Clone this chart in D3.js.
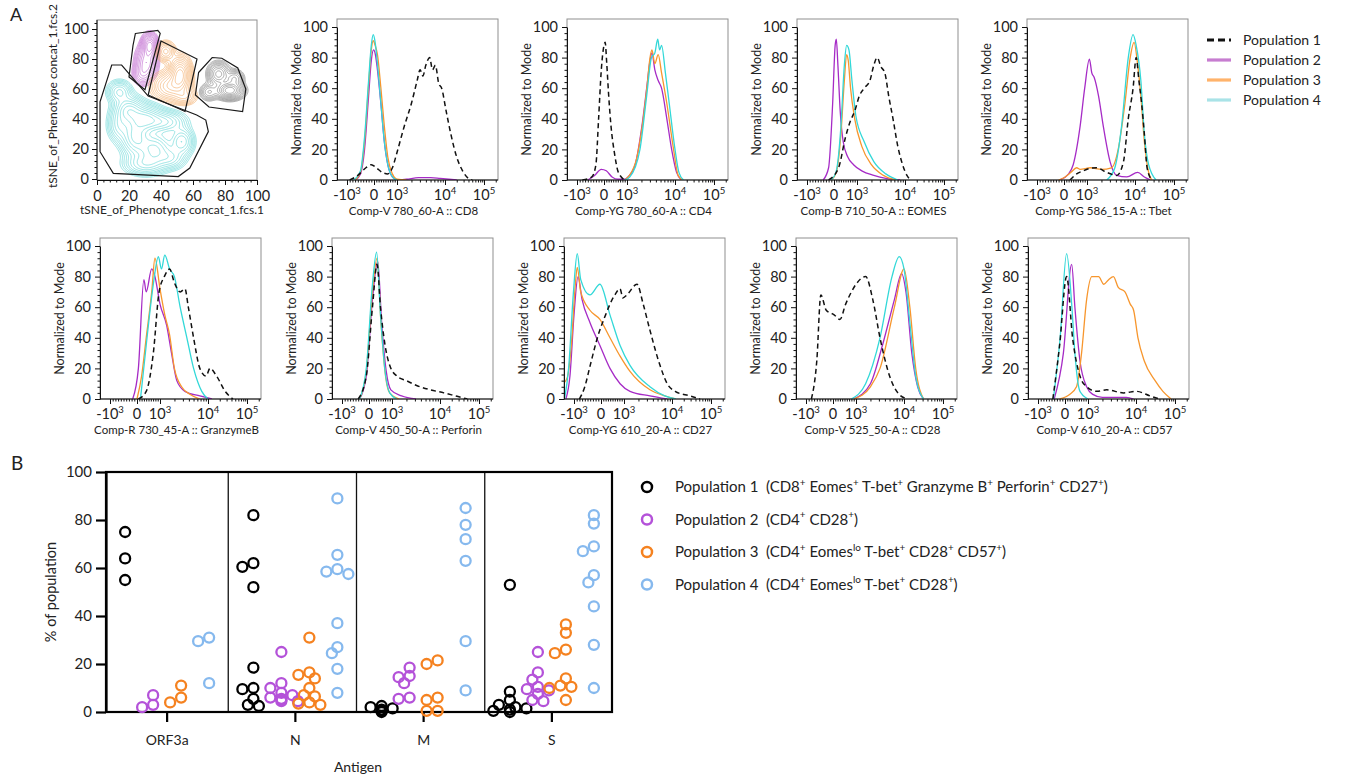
<!DOCTYPE html>
<html>
<head>
<meta charset="utf-8">
<script src="https://cdn.jsdelivr.net/npm/d3@7"></script>
<style>
  body { margin: 0; background: #fff; }
  text { font-family: Lato, "Open Sans", sans-serif; fill: #222; }
</style>
</head>
<body>
<div id="fig"></div>
<script>
// ---------- data: panel A ----------
const popNames = ["Population 1", "Population 2", "Population 3", "Population 4"];
const histColors = ["#111111", "#a62bc6", "#f7962d", "#32d8d8"];
const legendColorsA = ["#111111", "#c77dd0", "#ffb36b", "#a9e3e7"];

// biexponential axis: positions in decade units, -1 = -10^3, 0 = 0, 1 = 10^3 ...
const histTicks = [-1, 0, 1, 2, 3];
const histTickLabels = ["-10^{3}", "0", "10^{3}", "10^{4}", "10^{5}"];

// each marker: [pop1, pop2, pop3, pop4], points are [decade position, % of mode]
const cd8 = [
  [[-0.9,0],[-0.6,3],[-0.3,8],[-0.1,10],[0.1,8],[0.35,5],[0.6,4],[0.8,8],[1.0,18],[1.15,35],[1.3,50],[1.42,65],[1.48,72],[1.54,68],[1.6,75],[1.68,80],[1.74,72],[1.8,75],[1.87,63],[1.93,60],[2.03,45],[2.15,30],[2.3,15],[2.45,6],[2.6,1],[2.7,0]],
  [[-0.7,0],[-0.5,4],[-0.35,20],[-0.2,55],[-0.1,78],[-0.02,85],[0.06,82],[0.15,72],[0.3,50],[0.45,25],[0.6,10],[0.8,2],[1.0,0],[1.2,0.5],[1.45,1.5],[1.7,1.5],[1.9,1],[2.1,0.5],[2.3,0]],
  [[-0.7,0],[-0.5,5],[-0.35,25],[-0.2,62],[-0.1,85],[-0.03,91],[0.05,88],[0.15,82],[0.3,60],[0.45,35],[0.6,15],[0.8,4],[1.0,0.5],[1.2,0]],
  [[-0.75,0],[-0.5,6],[-0.35,28],[-0.2,65],[-0.1,88],[-0.03,95],[0.05,90],[0.15,76],[0.3,50],[0.45,25],[0.6,10],[0.8,2],[1.0,0]]
];
const cd4 = [
  [[-0.8,0],[-0.45,2],[-0.3,10],[-0.2,40],[-0.1,72],[0,88],[0.05,90],[0.12,76],[0.2,56],[0.3,36],[0.45,18],[0.6,6],[0.75,2],[0.9,0]],
  [[-0.6,0],[-0.35,3],[-0.1,7],[0.1,6],[0.35,2],[0.6,0.5],[0.9,0.5],[1.02,2],[1.17,10],[1.31,35],[1.41,60],[1.48,78],[1.52,83],[1.58,72],[1.65,65],[1.72,60],[1.83,40],[1.93,20],[2.04,5],[2.17,0]],
  [[0.9,0],[1.05,3],[1.2,14],[1.33,38],[1.42,62],[1.48,80],[1.52,85],[1.58,76],[1.65,82],[1.72,70],[1.83,50],[1.97,20],[2.08,3],[2.2,0]],
  [[0.9,0],[1.06,2],[1.27,20],[1.41,55],[1.51,80],[1.58,83],[1.64,92],[1.68,85],[1.72,88],[1.8,70],[1.88,50],[2.0,20],[2.1,5],[2.22,0]]
];
const eomes = [
  [[-0.2,0],[0.2,8],[0.5,28],[0.7,38],[0.9,45],[1.05,55],[1.15,60],[1.27,65],[1.35,75],[1.42,80],[1.5,74],[1.58,70],[1.66,55],[1.75,40],[1.85,22],[1.95,10],[2.05,3],[2.15,0]],
  [[-0.4,0],[-0.2,8],[-0.05,50],[0.05,88],[0.1,92],[0.17,75],[0.27,45],[0.4,25],[0.6,15],[0.85,10],[1.1,6],[1.35,3],[1.6,1],[1.9,0]],
  [[-0.1,0],[0.1,5],[0.3,30],[0.45,65],[0.55,82],[0.62,78],[0.72,60],[0.9,40],[1.1,22],[1.3,10],[1.55,3],[1.8,0]],
  [[-0.1,0],[0.1,6],[0.3,35],[0.45,75],[0.55,88],[0.65,85],[0.78,65],[0.95,42],[1.15,25],[1.35,12],[1.6,4],[1.85,0]]
];
const tbet = [
  [[0.26,0],[0.55,4],[0.84,6],[1.0,7],[1.2,8],[1.41,5],[1.62,3],[1.76,12],[1.86,40],[1.96,60],[2.03,80],[2.1,65],[2.17,50],[2.24,30],[2.31,8],[2.43,0]],
  [[-0.17,0],[0.2,4],[0.4,10],[0.7,35],[0.9,60],[1.05,79],[1.1,70],[1.15,67],[1.24,55],[1.34,35],[1.48,12],[1.62,3],[1.83,2],[2.07,5],[2.24,2],[2.4,0]],
  [[-0.2,0],[0.05,2],[0.3,5],[0.55,8],[0.7,7],[1.07,8],[1.3,7],[1.51,8],[1.65,20],[1.79,50],[1.9,80],[1.98,90],[2.07,75],[2.15,55],[2.24,25],[2.35,5],[2.43,0]],
  [[1.41,0],[1.58,8],[1.72,35],[1.86,80],[1.96,95],[2.03,88],[2.15,65],[2.24,30],[2.35,10],[2.54,0]]
];
const granzymeB = [
  [[0.06,0],[0.4,5],[0.71,30],[0.96,70],[1.09,80],[1.2,85],[1.3,76],[1.42,70],[1.52,72],[1.59,60],[1.7,40],[1.83,20],[1.96,15],[2.05,20],[2.22,15],[2.44,5],[2.64,0]],
  [[-0.16,0],[0.06,20],[0.3,78],[0.4,70],[0.64,85],[0.78,80],[1.0,62],[1.14,48],[1.24,30],[1.35,12],[1.52,5],[1.83,2],[2.1,0]],
  [[0.0,0],[0.2,15],[0.4,40],[0.64,70],[0.78,92],[1.0,72],[1.1,55],[1.2,42],[1.3,20],[1.45,8],[1.63,3],[1.83,0]],
  [[0.15,0],[0.4,35],[0.71,75],[0.93,93],[1.03,85],[1.1,94],[1.2,85],[1.3,80],[1.42,60],[1.56,40],[1.7,20],[1.87,5],[2.0,0]]
];
const perforin = [
  [[-0.4,0],[-0.1,15],[0.15,60],[0.35,88],[0.5,60],[0.7,35],[0.9,22],[1.1,15],[1.3,12],[1.5,9],[1.8,6],[2.1,4],[2.4,2],[2.7,0]],
  [[-0.35,0],[-0.1,15],[0.15,65],[0.38,90],[0.55,50],[0.75,18],[0.95,6],[1.2,2],[1.5,0]],
  [[-0.35,0],[-0.1,18],[0.15,70],[0.35,92],[0.52,50],[0.72,15],[0.9,4],[1.15,0]],
  [[-0.35,0],[-0.1,20],[0.15,75],[0.33,96],[0.5,55],[0.7,18],[0.9,4],[1.1,0]]
];
const cd27 = [
  [[-0.8,0],[-0.6,8],[-0.4,22],[-0.1,42],[0.2,55],[0.39,62],[0.6,68],[0.83,72],[0.95,66],[1.06,68],[1.27,75],[1.4,62],[1.54,45],[1.75,22],[1.9,10],[2.08,5],[2.46,2],[2.72,0]],
  [[-1.3,0],[-1.15,15],[-1.0,55],[-0.85,80],[-0.7,65],[-0.41,50],[-0.04,35],[0.39,20],[0.83,10],[1.125,5],[1.54,2],[1.9,0]],
  [[-1.4,10],[-1.25,14],[-1.1,35],[-0.95,75],[-0.88,86],[-0.75,70],[-0.41,58],[-0.04,52],[0.39,40],[0.83,28],[1.125,18],[1.54,6],[1.85,2],[2.1,0]],
  [[-1.35,0],[-1.2,20],[-1.02,70],[-0.88,95],[-0.75,78],[-0.41,68],[-0.04,75],[0.39,55],[0.83,35],[1.125,22],[1.54,8],[1.85,2],[2.1,0]]
];
const cd28 = [
  [[-0.8,0],[-0.6,25],[-0.45,68],[-0.25,58],[0.05,55],[0.3,52],[0.55,62],[0.8,70],[1.0,75],[1.2,80],[1.35,65],[1.5,40],[1.7,15],[1.9,3],[2.1,0]],
  [[0.9,0],[1.3,10],[1.55,35],[1.8,65],[1.95,82],[2.05,70],[2.2,30],[2.35,8],[2.5,0]],
  [[0.9,0],[1.3,8],[1.5,20],[1.8,60],[2.0,85],[2.15,60],[2.3,20],[2.5,0]],
  [[0.8,0],[1.2,10],[1.5,40],[1.75,80],[1.9,93],[2.0,85],[2.15,50],[2.3,15],[2.5,0]]
];
const cd57 = [
  [[-0.45,0],[-0.2,35],[0.07,80],[0.33,40],[0.65,15],[0.94,8],[1.18,5],[1.39,6],[1.74,4],[2.01,5],[2.36,2],[2.6,0]],
  [[-0.4,0],[-0.06,30],[0.29,88],[0.43,60],[0.65,25],[0.94,8],[1.1,3],[1.3,1],[1.8,1],[1.95,0]],
  [[-0.2,0],[0.2,3],[0.5,8],[0.72,30],[0.94,65],[1.08,80],[1.22,80],[1.33,75],[1.43,78],[1.53,80],[1.63,73],[1.77,70],[1.88,62],[1.95,58],[2.05,40],[2.21,25],[2.49,12],[2.69,5],[2.9,0]],
  [[-0.43,0],[-0.18,40],[0.07,95],[0.3,60],[0.43,30],[0.65,5],[1.0,0]]
];

const histRow1 = [cd8, cd4, eomes, tbet];
const histRow1Labels = ["Comp-V 780_60-A :: CD8", "Comp-YG 780_60-A :: CD4", "Comp-B 710_50-A :: EOMES", "Comp-YG 586_15-A :: Tbet"];
const histRow2 = [granzymeB, perforin, cd27, cd28, cd57];
const histRow2Labels = ["Comp-R 730_45-A :: GranzymeB", "Comp-V 450_50-A :: Perforin", "Comp-YG 610_20-A :: CD27", "Comp-V 525_50-A :: CD28", "Comp-V 610_20-A :: CD57"];

// tSNE gates (tSNE units) and density components [cx, cy, sx, sy, weight]
const gatePop1 = [[63.5,71],[72,81],[78,80.5],[88,74],[93,60],[91,45],[70,48],[61.5,56]];
const gatePop2 = [[24,97],[38,99],[39.5,97],[30,59.5],[20,68],[22.5,89]];
const gatePop3 = [[40,92],[62.5,80],[55,45],[32,56]];
const gatePop4 = [[9.2,76],[15.4,76],[32,55.3],[62.3,42.7],[68,39.3],[69.6,31.6],[58,7.3],[50.8,1.6],[10.2,3.8],[1.9,18.2],[1.9,51.5]];
const blobsPop1 = [[83,59,4.5,3,1],[76,70,3.5,4,0.6],[70,58,3,3,0.3],[86,67,3,3,0.4]];
const blobsPop2 = [[33,89,2.5,4,1],[31,78,3.5,6,0.7],[28,70,3,4,0.3]];
const blobsPop3 = [[52,70,3.5,6,1],[43,85,3,3.5,0.5],[46,62,6,5,0.6],[55,55,4,3,0.3]];
const blobsPop4 = [[14,58,4,4,0.5],[20,46,5,5,0.8],[30,40,6,5,0.9],[42,38,7,4,0.6],[24,28,5,7,0.8],[36,20,6,6,0.8],[30,10,7,4,0.5],[53,25,4,5,0.6],[46,14,5,4,0.4],[14,36,4,6,0.4]];
const contourColors = ["#8a8a8a", "#c06ad0", "#f4b173", "#6fd8d8"];

// ---------- data: panel B ----------
const antigens = ["ORF3a", "N", "M", "S"];
const pctPop1 = [[75,64,55], [82,62,60.5,52,18.5,10,9.5,5.5,3,2.5], [2.5,2,1.5,1,0.5,0], [53,8.5,5,3,2,1.5,1,0.5,0]];
const pctPop2 = [[7,2,3], [25,12,10,8,7,6,5.5,5,4.5,4.5], [18.5,15,14.5,12,6,5.5], [25,16.5,13.5,10.5,9.5,9,7.5,5,4.5]];
const pctPop3 = [[11,6,4], [31,16.5,15.5,14,10,7,6.5,4,3.5,3], [21.5,20,6,5,0.5,0.5], [36.5,33,26,24.5,14,11,10.5,10,5]];
const pctPop4 = [[31,29.5,12], [89,65.5,59.5,58.5,57.5,37,27,24.5,18,8], [85,78,72,63,29.5,9], [82,78.5,69,67,57,54,44,28,10]];
const colorsB = ["#000000", "#b452d9", "#f58220", "#86b9ee"];
const descB = [
  "(CD8^{+} Eomes^{+} T-bet^{+} Granzyme B^{+} Perforin^{+} CD27^{+})",
  "(CD4^{+} CD28^{+})",
  "(CD4^{+} Eomes^{lo} T-bet^{+} CD28^{+} CD57^{+})",
  "(CD4^{+} Eomes^{lo} T-bet^{+} CD28^{+})"
];

// ---------- drawing ----------
const svg = d3.select("#fig").append("svg").attr("width", 1347).attr("height", 778);

// text with ^{...} superscripts
function rich(sel, str, fs) {
  const parts = str.split(/(\^\{[^}]*\})/).filter(s => s.length);
  let shift = 0;
  parts.forEach(p => {
    const sup = p.startsWith("^{");
    const t = sel.append("tspan").text(sup ? p.slice(2, -1) : p);
    const target = sup ? -fs * 0.42 : 0;
    if (target !== shift) { t.attr("dy", target - shift); shift = target; }
    if (sup) t.attr("font-size", fs * 0.66);
  });
}

let clipId = 0;
function drawHist(px, py, label, curves) {
  const size = 161;
  const g = svg.append("g").attr("transform", `translate(${px},${py})`);
  const x = d3.scaleLinear().domain(histTicks).range([10, 37, 60, 108, 147]);
  const y = d3.scaleLinear().domain([0, 100]).range([size, 8]);

  g.append("rect").attr("width", size).attr("height", size)
    .attr("fill", "none").attr("stroke", "#8f8f8f").attr("stroke-width", 1);

  const id = "clip" + (clipId++);
  g.append("clipPath").attr("id", id).append("rect").attr("width", size).attr("height", size);

  const line = d3.line().x(d => x(d[0])).y(d => y(d[1])).curve(d3.curveMonotoneX);
  const cg = g.append("g").attr("clip-path", `url(#${id})`);
  [1, 2, 3, 0].forEach(i => {
    cg.append("path").datum(curves[i])
      .attr("d", line)
      .attr("fill", "none")
      .attr("stroke", histColors[i])
      .attr("stroke-width", i === 0 ? 1.5 : 1.3)
      .attr("stroke-dasharray", i === 0 ? "5,3.5" : null);
  });

  // y axis
  const ya = g.append("g").call(d3.axisLeft(y).tickValues(d3.range(0, 101, 20)).tickSize(5).tickSizeOuter(0));
  ya.append("g").call(d3.axisLeft(y).tickValues(d3.range(0, 101, 4).filter(v => v % 20)).tickSize(2.5).tickFormat(""))
    .select(".domain").remove();
  ya.selectAll(".tick text").attr("font-size", 14.5).attr("font-family", "Lato").attr("fill", "#222").attr("dx", -1);
  ya.selectAll("line, path").attr("stroke", "#111");

  // x axis
  const minors = d3.range(-1, 1, 0.1).concat(
    d3.merge([1, 2].map(k => d3.range(2, 10).map(m => k + Math.log10(m)))), [3 + Math.log10(2)]);
  const xa = g.append("g").attr("transform", `translate(0,${size})`)
    .call(d3.axisBottom(x).tickValues(histTicks).tickSize(5).tickSizeOuter(0).tickFormat(""));
  xa.append("g").call(d3.axisBottom(x).tickValues(minors).tickSize(2.5).tickFormat(""))
    .select(".domain").remove();
  xa.select(".domain").attr("d", `M0,0H${size}`);
  xa.selectAll("line, path").attr("stroke", "#111");
  xa.selectAll(".tick text").remove();
  histTicks.forEach((t, i) => {
    const tx = xa.append("text").attr("x", x(t)).attr("y", 20)
      .attr("text-anchor", "middle").attr("font-size", 14.5);
    rich(tx, histTickLabels[i], 14.5);
  });

  g.append("text").attr("x", size / 2 - 4).attr("y", size + 35)
    .attr("text-anchor", "middle").attr("font-size", 11.5).text(label);
  g.append("text").attr("transform", `translate(-36,${size / 2}) rotate(-90)`)
    .attr("text-anchor", "middle").attr("font-size", 12.5).text("Normalized to Mode");
}

function drawTsne(px, py) {
  const size = 160;
  const g = svg.append("g").attr("transform", `translate(${px},${py})`);
  const x = d3.scaleLinear().domain([0, 100]).range([0, size]);
  const y = d3.scaleLinear().domain([0, 100]).range([size - 1, 9]);

  g.append("rect").attr("width", size).attr("height", size)
    .attr("fill", "none").attr("stroke", "#8f8f8f");

  // density contours
  const n = 200, step = 0.5;
  const proj = d3.geoPath(d3.geoTransform({
    point: function (gx, gy) { this.stream.point(x(gx * step), y(gy * step)); }
  }));
  [blobsPop4, blobsPop2, blobsPop3, blobsPop1].forEach((blobs, k) => {
    const ci = [3, 1, 2, 0][k];
    const vals = new Float64Array(n * n);
    for (let j = 0; j < n; j++) for (let i = 0; i < n; i++) {
      const tx = (i + 0.5) * step, ty = (j + 0.5) * step;
      let s = 0;
      blobs.forEach(b => {
        s += b[4] * Math.exp(-((tx - b[0]) ** 2 / (2 * b[2] ** 2) + (ty - b[1]) ** 2 / (2 * b[3] ** 2)));
      });
      vals[j * n + i] = s;
    }
    const m = d3.max(vals);
    const levels = [0.04, 0.06, 0.085, 0.12, 0.16, 0.22, 0.3, 0.4, 0.52, 0.66, 0.82].map(f => f * m);
    g.append("g").selectAll("path")
      .data(d3.contours().size([n, n]).thresholds(levels)(vals))
      .join("path")
      .attr("d", proj)
      .attr("fill", "none")
      .attr("stroke", contourColors[ci])
      .attr("stroke-width", 0.7);
  });

  // gates
  const gl = d3.line().x(d => x(d[0])).y(d => y(d[1])).curve(d3.curveLinearClosed);
  [gatePop1, gatePop2, gatePop3, gatePop4].forEach(gt => {
    g.append("path").attr("d", gl(gt)).attr("fill", "none").attr("stroke", "#1a1a1a").attr("stroke-width", 1.2);
  });

  const ya = g.append("g").call(d3.axisLeft(y).tickValues(d3.range(0, 101, 20)).tickSize(5).tickSizeOuter(0));
  ya.append("g").call(d3.axisLeft(y).tickValues(d3.range(0, 105, 4).filter(v => v % 20)).tickSize(2.5).tickFormat(""))
    .select(".domain").remove();
  ya.select(".domain").attr("d", `M0,${size}V0`);
  const xa = g.append("g").attr("transform", `translate(0,${size})`)
    .call(d3.axisBottom(x).tickValues(d3.range(0, 101, 20)).tickSize(5).tickSizeOuter(0));
  xa.append("g").call(d3.axisBottom(x).tickValues(d3.range(0, 101, 4).filter(v => v % 20)).tickSize(2.5).tickFormat(""))
    .select(".domain").remove();
  [ya, xa].forEach(a => {
    a.selectAll("line, path").attr("stroke", "#111");
    a.selectAll(".tick text").attr("font-size", 14.5).attr("font-family", "Lato").attr("fill", "#222");
  });
  xa.selectAll(".tick text").attr("dy", "0.9em");

  g.append("text").attr("x", size / 2 - 5).attr("y", size + 34)
    .attr("text-anchor", "middle").attr("font-size", 12).text("tSNE_of_Phenotype concat_1.fcs.1");
  g.append("text").attr("transform", `translate(-40,${size / 2 - 4}) rotate(-90)`)
    .attr("text-anchor", "middle").attr("font-size", 12).text("tSNE_of_Phenotype concat_1.fcs.2");
}

// panel A
svg.append("text").attr("x", 10).attr("y", 21).attr("font-size", 18).text("A");
drawTsne(97, 20);
histRow1.forEach((c, i) => drawHist(337 + 230 * i, 19, histRow1Labels[i], c));
histRow2.forEach((c, i) => drawHist(100 + 232 * i, 238, histRow2Labels[i], c));

// legend A
const legA = svg.append("g").attr("transform", "translate(1207,40)");
popNames.forEach((p, i) => {
  legA.append("line").attr("x1", 0).attr("x2", 24).attr("y1", i * 20).attr("y2", i * 20)
    .attr("stroke", legendColorsA[i]).attr("stroke-width", 3.2)
    .attr("stroke-dasharray", i === 0 ? "7,4" : null);
  legA.append("text").attr("x", 36).attr("y", i * 20 + 5).attr("font-size", 14).text(p);
});

// panel B
svg.append("text").attr("x", 11).attr("y", 470).attr("font-size", 19).text("B");
const bx0 = 106, bx1 = 612, by0 = 472, by1 = 712;
const yB = d3.scaleLinear().domain([0, 100]).range([by1, by0]);
const xB = d3.scaleBand().domain(antigens).range([103, 616]);
const xPop = d3.scalePoint().domain([0, 1, 2, 3]).range([-42, 42]);
const gB = svg.append("g");

// dividers
antigens.slice(1).forEach(a => {
  gB.append("line").attr("x1", xB(a) - 3).attr("x2", xB(a) - 3).attr("y1", by0).attr("y2", by1)
    .attr("stroke", "#111").attr("stroke-width", 1.3);
});
gB.append("rect").attr("x", bx0).attr("y", by0).attr("width", bx1 - bx0).attr("height", by1 - by0)
  .attr("fill", "none").attr("stroke", "#000").attr("stroke-width", 2.2);

const yaB = gB.append("g").attr("transform", `translate(${bx0},0)`)
  .call(d3.axisLeft(yB).tickValues(d3.range(0, 101, 20)).tickSize(10).tickSizeOuter(0));
yaB.selectAll("line, path").attr("stroke", "#000").attr("stroke-width", 2.2);
yaB.selectAll(".tick text").attr("font-size", 15).attr("font-family", "Lato").attr("fill", "#222").attr("dx", -1);

const xaB = gB.append("g").attr("transform", `translate(0,${by1})`)
  .call(d3.axisBottom(xB).tickSize(10).tickSizeOuter(0));
xaB.select(".domain").remove();
xaB.selectAll("line").attr("stroke", "#000").attr("stroke-width", 2.2);
xaB.selectAll(".tick text").attr("font-size", 14).attr("font-family", "Lato").attr("fill", "#222").attr("dy", "1.45em");

gB.append("text").attr("x", 358).attr("y", 772).attr("text-anchor", "middle").attr("font-size", 14).text("Antigen");
gB.append("text").attr("transform", "translate(56,592) rotate(-90)")
  .attr("text-anchor", "middle").attr("font-size", 14.5).text("% of  population");

// points with a simple swarm offset
const rB = 5;
function swarm(vals, cx) {
  const placed = [];
  vals.slice().sort((a, b) => b - a).forEach(v => {
    const cy = yB(v);
    for (const k of [0, -1, 1, -2, 2, -3, 3]) {
      const px = cx + k * 5.5;
      if (placed.every(p => Math.hypot(p[0] - px, p[1] - cy) >= 7.5)) { placed.push([px, cy]); return; }
    }
    placed.push([cx, cy]);
  });
  return placed;
}
[pctPop1, pctPop2, pctPop3, pctPop4].forEach((pop, pi) => {
  antigens.forEach((a, ai) => {
    const cx = xB(a) + xB.bandwidth() / 2 + xPop(pi);
    gB.append("g").selectAll("circle").data(swarm(pop[ai], cx)).join("circle")
      .attr("cx", d => d[0]).attr("cy", d => d[1]).attr("r", rB)
      .attr("fill", "none").attr("stroke", colorsB[pi]).attr("stroke-width", 2.3);
  });
});

// legend B
const legB = svg.append("g").attr("transform", "translate(647,487)");
popNames.forEach((p, i) => {
  const yy = i * 32.5;
  legB.append("circle").attr("cx", 0).attr("cy", yy).attr("r", 5)
    .attr("fill", "none").attr("stroke", colorsB[i]).attr("stroke-width", 2.5);
  legB.append("text").attr("x", 28).attr("y", yy + 5).attr("font-size", 15).text(p);
  const t = legB.append("text").attr("x", 119).attr("y", yy + 5).attr("font-size", 15);
  rich(t, descB[i], 15);
});
</script>
</body>
</html>
